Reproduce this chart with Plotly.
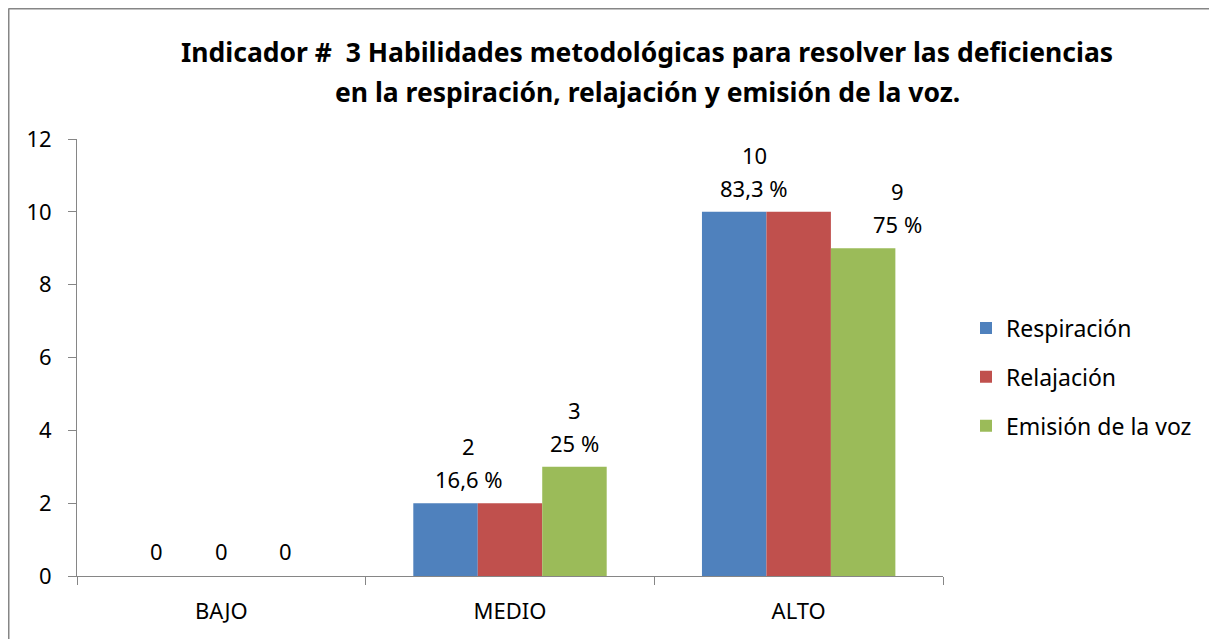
import plotly.graph_objects as go

# datos del indicador 3
categorias = ["BAJO", "MEDIO", "ALTO"]
series = ["Respiración", "Relajación", "Emisión de la voz"]
respiracion = [0, 2, 10]
relajacion = [0, 2, 10]
emision = [0, 3, 9]
colores = ["#4F81BD", "#C0504D", "#9BBB59"]

# etiquetas de datos (como en el grafico original)
etiq_valor = [["0", "2", "10"], ["0", "", ""], ["0", "3", "9"]]
etiq_pct = [["", "16,6 %", "83,3 %"], ["", "", ""], ["", "25 %", "75 %"]]
# desplazamiento horizontal extra de cada etiqueta (px)
etiq_dx = [[0, 23, 20], [0, 0, 0], [0, 0, 34]]

FONT = "Noto Sans, Calibri, sans-serif"
valores = [respiracion, relajacion, emision]

fig = go.Figure()
for i, nombre in enumerate(series):
    fig.add_trace(go.Bar(x=categorias, y=valores[i], name=nombre,
                         marker=dict(color=colores[i], line=dict(width=0)),
                         legendgroup=nombre))

# la pagina pone la figura 8 px desplazada (margen del body)
OFF = 8
W, H = 1217, 639
L, T = 77 - OFF, 139 - OFF
R = W - (943 - OFF)
B = H - (576 - OFF)
plot_w = W - L - R
plot_h = H - T - B
bargap = 0.33
bar_w = plot_w / 3 * (1 - bargap) / 3


def py(y_pant):
    # posicion vertical de pantalla -> paper
    return (H - B - (y_pant - OFF)) / plot_h


def px_(x_pant):
    return (x_pant - OFF - L) / plot_w


anots = []
for i in range(3):
    for j, cat in enumerate(categorias):
        dx = (i - 1) * bar_w + etiq_dx[i][j]
        v = valores[i][j]
        if etiq_pct[i][j]:
            anots.append(dict(x=cat, y=v, xref="x", yref="y", text=etiq_pct[i][j],
                              showarrow=False, xshift=dx, yshift=24,
                              font=dict(size=22, color="#000000", family=FONT)))
            anots.append(dict(x=cat, y=v, xref="x", yref="y", text=etiq_valor[i][j],
                              showarrow=False, xshift=dx, yshift=57,
                              font=dict(size=22, color="#000000", family=FONT)))
        elif etiq_valor[i][j]:
            anots.append(dict(x=cat, y=v, xref="x", yref="y", text=etiq_valor[i][j],
                              showarrow=False, xshift=dx, yshift=25,
                              font=dict(size=22, color="#000000", family=FONT)))

anots.append(dict(x=px_(647), y=py(52), xref="paper", yref="paper",
                  xanchor="center", yanchor="middle",
                  text="<b>Indicador #  3 Habilidades metodológicas para resolver las deficiencias</b>",
                  showarrow=False, font=dict(size=26.5, color="#000000", family=FONT)))
anots.append(dict(x=px_(647), y=py(92), xref="paper", yref="paper",
                  xanchor="center", yanchor="middle",
                  text="<b>en la respiración, relajación y emisión de la voz.</b>",
                  showarrow=False, font=dict(size=26.5, color="#000000", family=FONT)))

# marco del grafico: solo se ven el borde izquierdo y el superior
borde = dict(color="#868686", width=2)
marco = [
    dict(type="line", xref="paper", yref="paper", x0=px_(OFF + 0.5), x1=px_(OFF + 0.5),
         y0=-0.5, y1=py(OFF + 0.5), line=borde),
    dict(type="line", xref="paper", yref="paper", x0=px_(OFF + 0.5), x1=1.5,
         y0=py(OFF + 0.5), y1=py(OFF + 0.5), line=borde),
]

fig.update_layout(
    width=W, height=H,
    margin=dict(l=L, r=R, t=T, b=B),
    paper_bgcolor="white", plot_bgcolor="white",
    barmode="group", bargap=bargap, bargroupgap=0,
    font=dict(family=FONT, size=22, color="#000000"),
    showlegend=True,
    legend=dict(x=px_(966), y=py(377), xanchor="left", yanchor="middle",
                font=dict(size=23), tracegroupgap=16, itemwidth=30),
    annotations=anots,
    shapes=marco,
)
fig.update_xaxes(showline=True, linecolor="#868686", linewidth=1,
                 ticks="outside", tickson="boundaries", ticklen=8, tickcolor="#868686",
                 showgrid=False, tickfont=dict(size=22), ticklabelstandoff=16)
fig.update_yaxes(range=[0, 12], dtick=2, showline=True, linecolor="#868686", linewidth=1,
                 ticks="outside", ticklen=8, tickcolor="#868686", showgrid=False,
                 zeroline=False, tickfont=dict(size=22), ticklabelstandoff=12)

fig.write_html("out.html")
